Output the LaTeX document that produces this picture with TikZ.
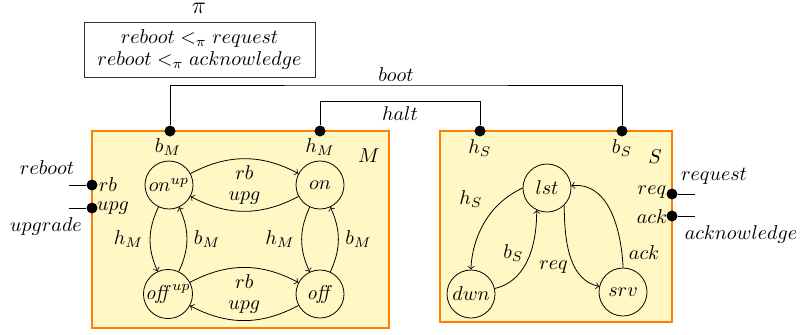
\documentclass[tikz,border=0pt]{standalone}
\usepackage{amsmath,amsthm,amssymb}
\definecolor{cmpborder}{RGB}{255,128,0}
\definecolor{cmpfill}{RGB}{255,248,196}

\begin{document}
\begin{tikzpicture}[x=0.5pt,y=0.5pt,yscale=-1,xscale=1,
  state/.style={draw,circle,minimum size=24pt,inner sep=0pt},
  port/.style={circle,fill,inner sep=0pt,minimum size=5.5pt},
  cmp/.style={draw=cmpborder,fill=cmpfill,line width=1pt},
  trans/.style={->,>=to}]
\useasboundingbox (0,0) rectangle (801,334);
%Shape: Rectangle [id:priority]
\draw[cmp] (92,131) rectangle (389,328);
\draw[cmp] (440,131) rectangle (672,322);
% Text Node
\node[inner sep=0pt,font=\large] (pi) at (199,8) {$\pi$};
% Text Node
\node[draw=black!80,align=center,inner sep=3pt,minimum width=115.5pt,minimum height=27.5pt] (prio) at (199.5,49.5)
  {$reboot <_\pi request$\\[-1pt] $reboot <_\pi acknowledge$};
% Ports of M
\node[port] (bM) at (170,131) {};
\node[port] (hM) at (320,131) {};
\node[port] (rbM) at (92,185) {};
\node[port] (upgM) at (92,208) {};
% Ports of S
\node[port] (hS) at (480,131) {};
\node[port] (bS) at (622,131) {};
\node[port] (reqS) at (672,194) {};
\node[port] (ackS) at (672,216) {};
% Free ends
\coordinate (rbend) at (69,185);
\coordinate (upgend) at (69,208);
\coordinate (reqend) at (695,194);
\coordinate (ackend) at (695,216);
\coordinate (bootmid) at (396,85);
\coordinate (haltmid) at (400,101);
%Connections
\draw (bM) |- (bootmid) -| (bS);
\draw (hM) |- (haltmid) -| (hS);
\draw (rbend) -- (rbM);
\draw (upgend) -- (upgM);
\draw (reqS) -- (reqend);
\draw (ackS) -- (ackend);
% Text Node
\node (boot) at (396,75) {$boot$};
\node (halt) at (400,114) {$halt$};
\node (bMl) at (168,147) {$b_M$};
\node (hMl) at (320,147) {$h_M$};
\node (Ml) at (369,156) {$M$};
\node (hSl) at (480,148) {$h_S$};
\node (bSl) at (622,148) {$b_S$};
\node (Sl) at (655,157) {$S$};
\node (reboot) at (47,168) {$reboot$};
\node (upgrade) at (46,226) {$upgrade$};
\node (rbl) at (108,185) {$rb$};
\node (upgl) at (113,208) {$upg$};
\node (request) at (714,176) {$request$};
\node (acknowledge) at (741,234) {$acknowledge$};
\node (reql) at (652,192) {$req$};
\node (ackl) at (652,217) {$ack$};
% States of M
\node[state] (onup) at (169,185) {$on^{up}$};
\node[state] (on) at (320,185) {$on$};
\node[state] (offup) at (168,294) {$\mathit{off}^{up}$};
\node[state] (off) at (320,294) {$\mathit{off}$};
% States of S
\node[state] (lst) at (547,188) {$lst$};
\node[state] (dwn) at (471,294) {$dwn$};
\node[state] (srv) at (623,292) {$srv$};
%Transitions of M (yscale=-1 mirrors the bends)
\draw[trans] (onup) to[bend right=28] node[below] {$rb$} (on);
\draw[trans] (on) to[bend right=28] node[above] {$upg$} (onup);
\draw[trans] (offup) to[bend right=28] node[below] {$rb$} (off);
\draw[trans] (off) to[bend right=28] node[above] {$upg$} (offup);
\draw[trans] (onup) to[bend left=25] node[left] {$h_M$} (offup);
\draw[trans] (offup) to[bend left=25] node[right] {$b_M$} (onup);
\draw[trans] (on) to[bend left=25] node[left] {$h_M$} (off);
\draw[trans] (off) to[bend left=25] node[right] {$b_M$} (on);
%Transitions of S
\draw[trans] (lst.west) to[out=155,in=-90] node[pos=0.3,above left] {$h_S$} (dwn);
\draw[trans] (dwn) to[out=-40,in=90] node[pos=0.62,left] {$b_S$} (lst.-115);
\draw[trans] (lst.-45) to[out=90,in=-140] node[pos=0.6,left] {$req$} (srv);
\draw[trans] (srv) to[out=-90,in=-15] node[pos=0.25,right] {$ack$} (lst);
\end{tikzpicture}
\end{document}
